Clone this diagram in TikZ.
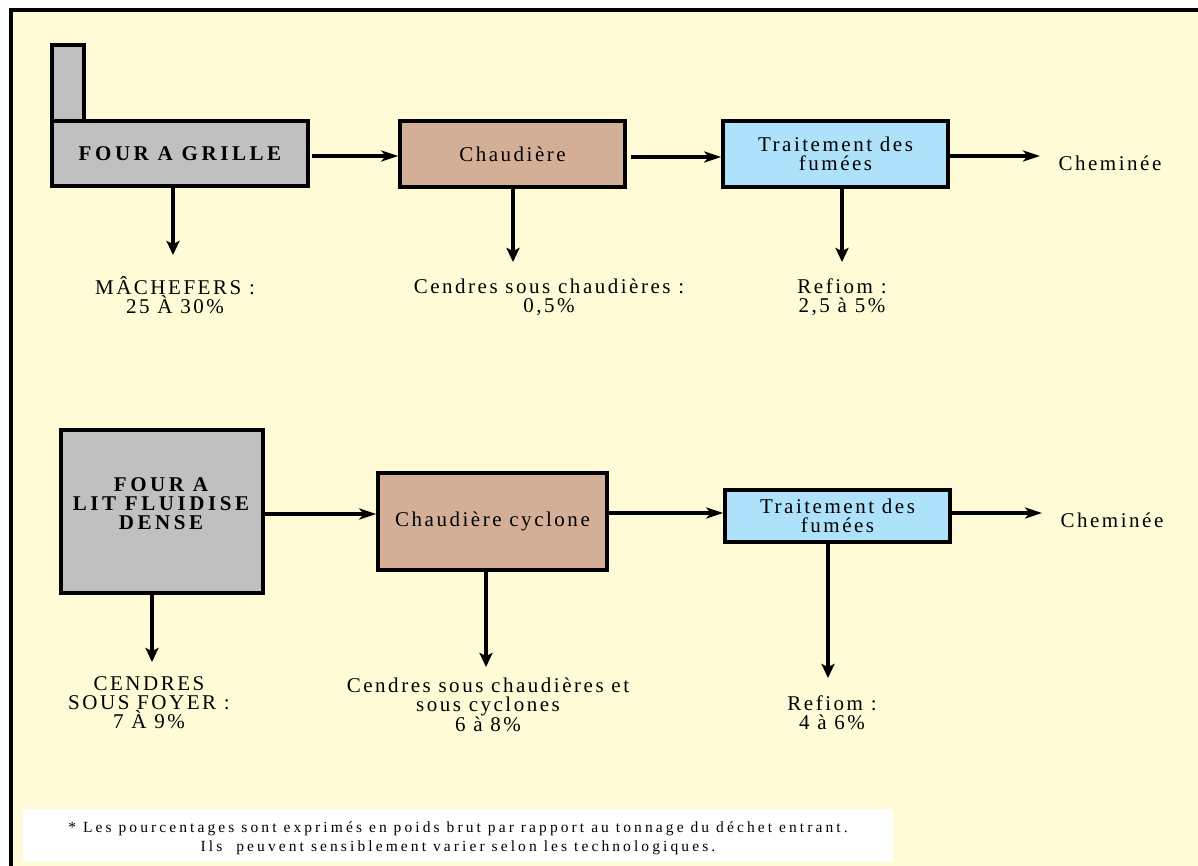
\documentclass[tikz,border=0pt]{standalone}
\usepackage{fontspec}
\setmainfont{Liberation Serif}
\newfontfamily\lbl{Liberation Serif}[LetterSpace=12]
\newfontfamily\lblb{Liberation Serif Bold}[LetterSpace=17]
\newfontfamily\notefont{Liberation Serif}[LetterSpace=20]
\usetikzlibrary{arrows.meta}
\definecolor{cream}{RGB}{255,251,214}
\definecolor{ovengray}{RGB}{192,192,192}
\definecolor{boiler}{RGB}{212,175,152}
\definecolor{fumes}{RGB}{173,226,250}
\begin{document}
\begin{tikzpicture}[x=1pt,y=-1pt,
  box/.style={draw=black,line width=3.6pt,inner sep=0pt,align=center,
    font=\lbl\fontsize{21}{19}\selectfont},
  oven/.style={box,fill=ovengray,font=\lblb\fontsize{21}{19}\selectfont},
  boilerbox/.style={box,fill=boiler},
  fumesbox/.style={box,fill=fumes},
  lab/.style={align=center,inner sep=0pt,font=\lbl\fontsize{21}{19}\selectfont},
  harr/.style={line width=3.2pt,-{Stealth[length=17pt,width=11pt,inset=4.5pt]}},
  varr/.style={line width=3.8pt,-{Stealth[length=14pt,width=13pt,inset=3pt]}}
]
% canvas and outer frame (open to the right and bottom)
\useasboundingbox (0,0) rectangle (1198,866);
\fill[white] (0,0) rectangle (1198,866);
\fill[cream] (11,10) rectangle (1198,866);
\draw[line width=4pt] (11,866) -- (11,10) -- (1198,10);

% first line: grate furnace
\node[draw=black,line width=3.6pt,fill=ovengray,minimum width=32pt,minimum height=76pt,inner sep=0pt] (chim) at (68,83) {};
\node[oven,minimum width=256pt,minimum height=65pt] (four1) at (180,153.5) {FOUR A GRILLE};
\node[boilerbox,minimum width=225pt,minimum height=66pt] (chaud1) at (512.5,154) {Chaudière};
\node[fumesbox,minimum width=225pt,minimum height=66pt] (trait1) at (835.5,154) {Traitement des\\fumées};
\node[lab] (chem1) at (1110,163) {Cheminée};
\node[lab] (mach) at (175,295) {MÂCHEFERS :\\25 À 30\%};
\node[lab] (cend1) at (549,297) {Cendres sous chaudières :\\0,5\%};
\node[lab] (ref1) at (842,297) {Refiom :\\2,5 à 5\%};

\coordinate (e1) at (1040,156);
\coordinate (d1) at (173,255);
\coordinate (d2) at (513,262);
\coordinate (d3) at (842,262);

\draw[harr,shorten <=2pt] (four1.east |- 0,156) -- (chaud1.west |- 0,156);
\draw[harr,shorten <=4pt] (chaud1.east |- 0,157) -- (trait1.west |- 0,157);
\draw[harr] (trait1.east |- e1) -- (e1);
\draw[varr] (four1.south -| d1) -- (d1);
\draw[varr] (chaud1.south -| d2) -- (d2);
\draw[varr] (trait1.south -| d3) -- (d3);

% second line: dense fluidised bed
\node[draw=black,line width=3.6pt,fill=ovengray,minimum width=202pt,minimum height=163pt] (four2) at (162,511.5) {};
\node[align=center,inner sep=0pt,font=\lblb\fontsize{21}{19}\selectfont] (four2txt) at (161,504) {FOUR A\\LIT FLUIDISE\\DENSE};
\node[boilerbox,minimum width=229pt,minimum height=97pt] (chaud2) at (492.5,521.5) {Chaudière cyclone};
\node[fumesbox,minimum width=225pt,minimum height=52pt] (trait2) at (837.5,516) {Traitement des\\fumées};
\node[lab] (chem2) at (1112,520) {Cheminée};
\node[lab] (cend2) at (149,703) {CENDRES\\SOUS FOYER :\\7 À 9\%};
\node[lab] (cend3) at (488,705) {Cendres sous chaudières et\\sous cyclones\\6 à 8\%};
\node[lab] (ref2) at (832,713) {Refiom :\\4 à 6\%};

\coordinate (e2) at (1042,513);
\coordinate (d4) at (152,662);
\coordinate (d5) at (486,667);
\coordinate (d6) at (828,678);

\draw[harr] (four2.east |- 0,514) -- (chaud2.west |- 0,514);
\draw[harr] (chaud2.east |- 0,513) -- (trait2.west |- 0,513);
\draw[harr] (trait2.east |- e2) -- (e2);
\draw[varr] (four2.south -| d4) -- (d4);
\draw[varr] (chaud2.south -| d5) -- (d5);
\draw[varr] (trait2.south -| d6) -- (d6);

% footnote
\fill[white] (23,809) rectangle (893,862);
\node[align=center,inner sep=0pt,font=\notefont\fontsize{15.5}{19}\selectfont] (note) at (458,838)
  {* Les pourcentages sont exprimés en poids brut par rapport au tonnage du déchet entrant.\\
   Ils\ \ peuvent sensiblement varier selon les technologiques.};
\end{tikzpicture}
\end{document}
